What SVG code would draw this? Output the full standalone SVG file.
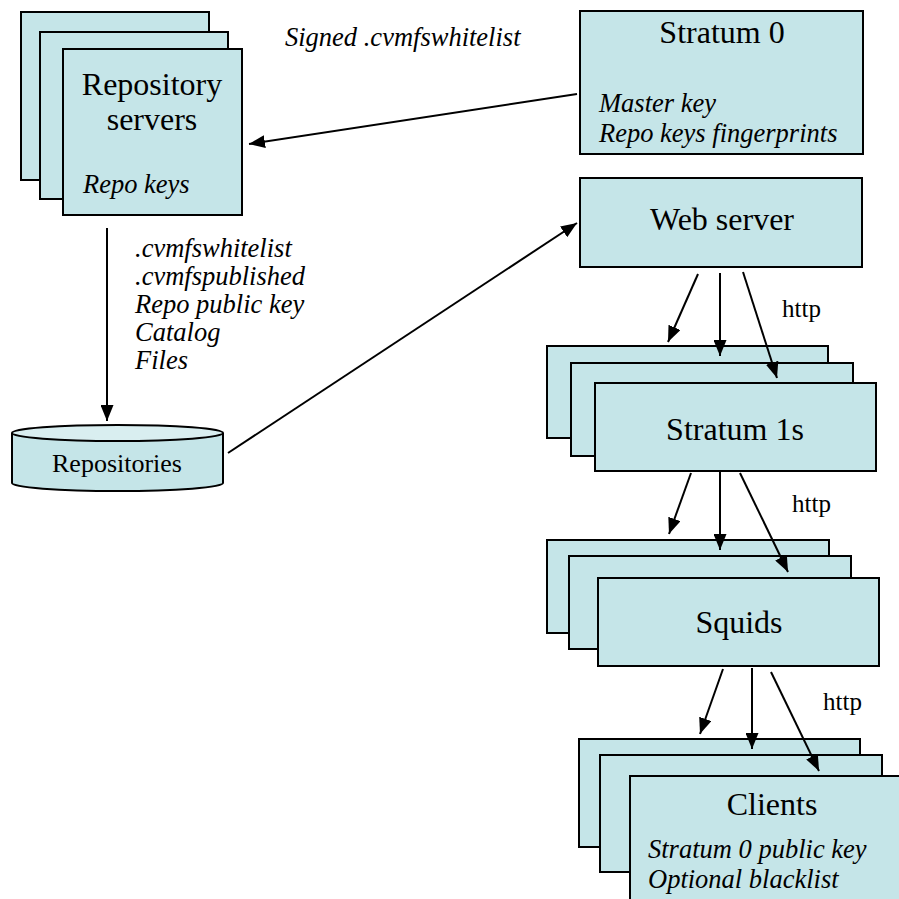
<svg xmlns="http://www.w3.org/2000/svg" width="899" height="899" viewBox="0 0 899 899">
<defs>
<style>
.box{fill:#c5e5e8;stroke:#000;stroke-width:2}
.t{font-family:"Liberation Serif",serif;font-size:32px;fill:#000;text-anchor:middle}
.i{font-family:"Liberation Serif",serif;font-size:26.5px;font-style:italic;fill:#000}
.h{font-family:"Liberation Serif",serif;font-size:25px;fill:#000}
.c{stroke:#000;stroke-width:2;fill:none;marker-end:url(#ah)}
</style>
<marker id="ah" markerUnits="userSpaceOnUse" markerWidth="16" markerHeight="13" refX="16" refY="6.5" orient="auto">
<path d="M0,0 L16,6.5 L0,13 z" fill="#000"/>
</marker>
</defs>
<rect width="899" height="899" fill="#fff"/>

<g id="repo-servers">
<rect class="box" x="21" y="12" width="188" height="168"/>
<rect class="box" x="40" y="32" width="188" height="167"/>
<rect class="box" x="63" y="49" width="179" height="166"/>
<text class="t" x="152" y="95">Repository</text>
<text class="t" x="152" y="130">servers</text>
<text class="i" x="83" y="193">Repo keys</text>
</g>

<g id="stratum0">
<rect class="box" x="580" y="11" width="283" height="143"/>
<text class="t" x="722" y="43">Stratum 0</text>
<text class="i" x="599" y="112">Master key</text>
<text class="i" x="599" y="142">Repo keys fingerprints</text>
</g>

<g id="webserver">
<rect class="box" x="580" y="178" width="282" height="89"/>
<text class="t" x="722" y="230">Web server</text>
</g>

<g id="repositories">
<path class="box" d="M12,433 L12,483 A105.5,8 0 0 0 223,483 L223,433"/>
<ellipse cx="117.5" cy="433" rx="105.5" ry="8" fill="#d9eef0" stroke="#000" stroke-width="2"/>
<text x="117" y="472" font-family="'Liberation Serif',serif" font-size="26" text-anchor="middle">Repositories</text>
</g>

<g id="stratum1s">
<rect class="box" x="547" y="346" width="281" height="92"/>
<rect class="box" x="571" y="363" width="282" height="93"/>
<rect class="box" x="595" y="383" width="281" height="88"/>
<text class="t" x="735" y="440">Stratum 1s</text>
</g>

<g id="squids">
<rect class="box" x="547" y="540" width="282" height="93"/>
<rect class="box" x="569" y="556" width="282" height="93"/>
<rect class="box" x="598" y="578" width="281" height="88"/>
<text class="t" x="739" y="633">Squids</text>
</g>

<g id="clients">
<rect class="box" x="579" y="739" width="281" height="108"/>
<rect class="box" x="600" y="755" width="282" height="117"/>
<rect class="box" x="630" y="776" width="290" height="140"/>
<text class="t" x="772" y="815">Clients</text>
<text class="i" x="648" y="858">Stratum 0 public key</text>
<text class="i" x="648" y="888">Optional blacklist</text>
</g>

<g id="connectors">
<line class="c" x1="577" y1="94" x2="249" y2="144"/>
<text class="i" x="285" y="46">Signed .cvmfswhitelist</text>
<line class="c" x1="107" y1="228" x2="107" y2="421"/>
<text class="i" x="135" y="257">.cvmfswhitelist</text>
<text class="i" x="135" y="285">.cvmfspublished</text>
<text class="i" x="135" y="313">Repo public key</text>
<text class="i" x="135" y="341">Catalog</text>
<text class="i" x="135" y="369">Files</text>
<line class="c" x1="228" y1="453" x2="577" y2="223"/>

<line class="c" x1="698" y1="274" x2="668" y2="342"/>
<line class="c" x1="720" y1="273" x2="720" y2="356"/>
<line class="c" x1="743" y1="272" x2="777" y2="378"/>
<text class="h" x="782" y="317">http</text>

<line class="c" x1="691" y1="473" x2="669" y2="534"/>
<line class="c" x1="720" y1="471" x2="720" y2="550"/>
<line class="c" x1="740" y1="473" x2="788" y2="572"/>
<text class="h" x="792" y="512">http</text>

<line class="c" x1="723" y1="669" x2="700" y2="734"/>
<line class="c" x1="752" y1="668" x2="752" y2="749"/>
<line class="c" x1="771" y1="672" x2="819" y2="771"/>
<text class="h" x="823" y="710">http</text>
</g>
</svg>
